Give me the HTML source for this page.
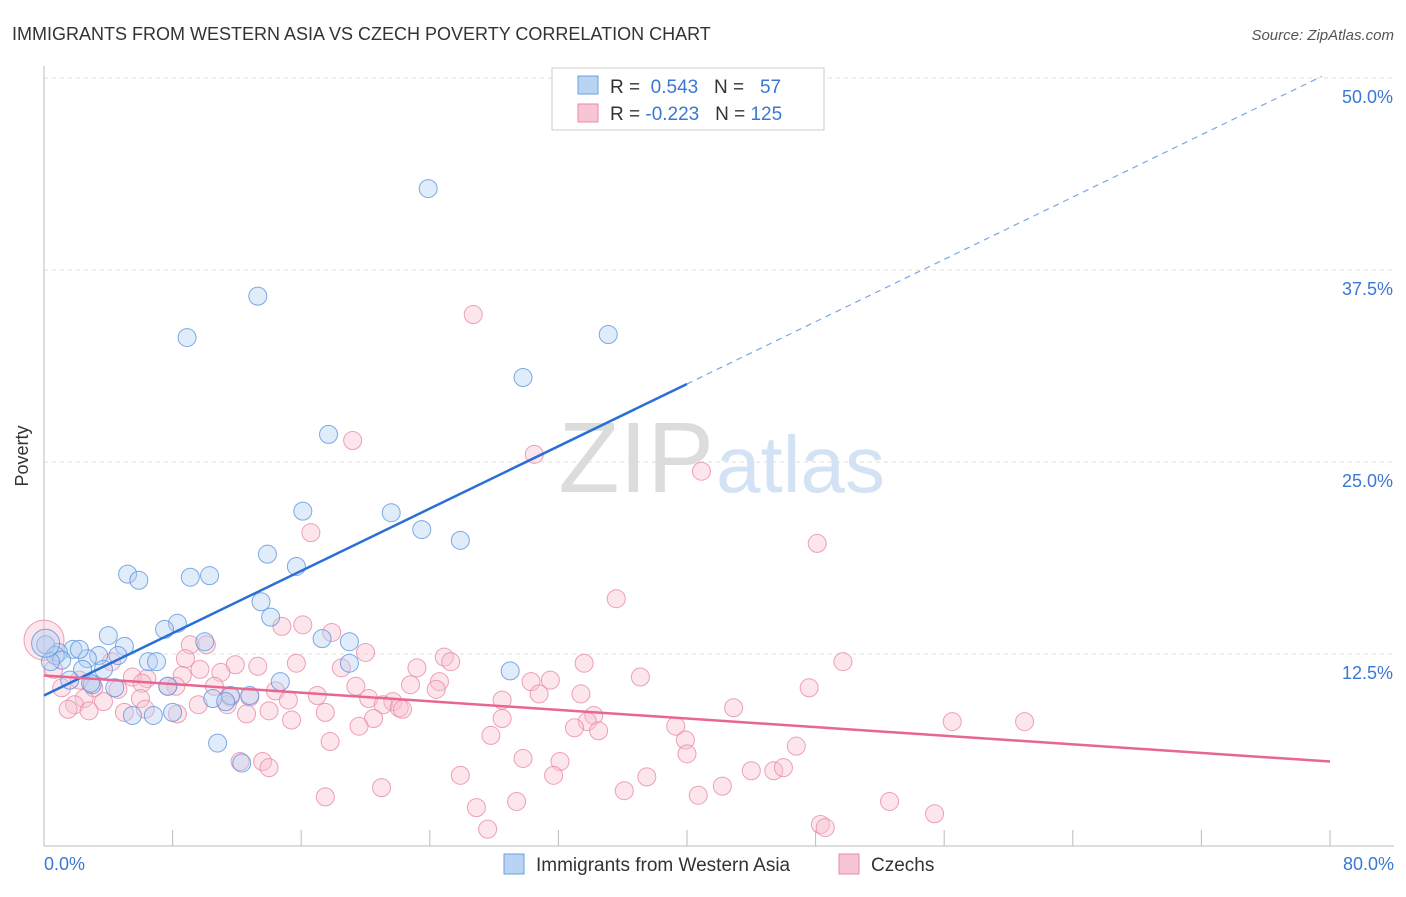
<!DOCTYPE html>
<html><head><meta charset="utf-8"><style>
body{margin:0;background:#fff;font-family:"Liberation Sans",sans-serif;}
svg text{font-family:"Liberation Sans",sans-serif;}
</style></head><body>
<svg id="chart" width="1406" height="892">
<text x="12" y="40" font-size="18" fill="#333">IMMIGRANTS FROM WESTERN ASIA VS CZECH POVERTY CORRELATION CHART</text>
<text x="1394" y="40" font-size="15" fill="#555" text-anchor="end" font-style="italic">Source: ZipAtlas.com</text>
<g id="grid"></g>
<text x="714" y="492" font-size="100" fill="#dcdcdc" text-anchor="end" font-family="Liberation Serif">ZIP</text>
<text x="716" y="492" font-size="80" fill="#d3e3f5">atlas</text>
<g id="marks"></g>
<text x="28" y="456" font-size="18" fill="#333" transform="rotate(-90 28 456)" text-anchor="middle">Poverty</text>
<text x="44" y="870" font-size="18" fill="#3a78d4">0.0%</text>
<text x="1394" y="870" font-size="18" fill="#3a78d4" text-anchor="end">80.0%</text>
<g>
<rect x="552" y="68" width="272" height="62" fill="#fff" stroke="#ccc"/>
<rect x="578" y="76" width="20" height="18" fill="#b9d3f3" stroke="#6b9fdf"/>
<rect x="578" y="104" width="20" height="18" fill="#f7c5d3" stroke="#e88aa6"/>
<text x="610" y="93" font-size="19" fill="#333">R = <tspan fill="#3a78d4">&#160;0.543</tspan>&#160;&#160;&#160;N = &#160;<tspan fill="#3a78d4">&#160;57</tspan></text>
<text x="610" y="120" font-size="19" fill="#333">R = <tspan fill="#3a78d4">-0.223</tspan>&#160;&#160;&#160;N = <tspan fill="#3a78d4">125</tspan></text>
</g>
<g>
<rect x="504" y="854" width="20" height="20" fill="#b9d3f3" stroke="#6b9fdf"/>
<text x="536" y="871" font-size="19" fill="#333">Immigrants from Western Asia</text>
<rect x="839" y="854" width="20" height="20" fill="#f7c5d3" stroke="#e88aa6"/>
<text x="871" y="871" font-size="19" fill="#333">Czechs</text>
</g>
</svg>
<script>
const yTicks=[12.5,25,37.5,50];
const xTicks=[0,8,16,24,32,40,48,56,64,72,80];
const blueX=[23.9,13.3,8.9,35.1,29.8,17.7,16.1,21.6,23.5,25.9,13.9,15.7,5.2,5.9,9.1,10.3,13.5,14.1,8.3,7.5,4.0,10.0,17.3,19.0,5.0,1.8,0.9,3.4,4.6,6.5,7.0,19.0,29.0,0.1,0.7,2.7,3.7,2.4,1.6,3.0,7.7,14.7,4.4,12.8,11.6,10.5,11.3,6.8,5.5,8.0,10.8,12.3,1.1,0.4,2.2,2.9,0.1];
const blueY=[42.8,35.8,33.1,33.3,30.5,26.8,21.8,21.7,20.6,19.9,19.0,18.2,17.7,17.3,17.5,17.6,15.9,14.9,14.5,14.1,13.7,13.3,13.5,13.3,13.0,12.8,12.6,12.4,12.4,12.0,12.0,11.9,11.4,13.1,12.4,12.2,11.5,11.5,10.8,10.5,10.4,10.7,10.3,9.8,9.8,9.6,9.4,8.5,8.5,8.7,6.7,5.4,12.1,12.0,12.8,10.6,13.2];
const pinkX=[26.7,19.2,30.5,40.9,16.6,48.1,35.6,0,14.8,16.1,17.9,9.1,10.1,20.0,24.9,25.3,33.6,49.7,15.7,18.5,23.2,8.8,4.2,9.7,11.9,13.3,0.6,2.2,5.5,6.4,8.6,11.0,37.1,30.3,31.5,24.6,22.8,19.4,8.2,7.7,6.1,1.1,3.1,4.6,10.6,14.4,24.4,33.4,30.8,47.6,17.0,15.2,20.2,21.7,28.5,12.8,11.6,6.0,2.5,3.7,1.9,9.6,11.4,21.1,22.1,22.3,42.9,1.5,2.8,5.0,6.3,8.3,12.6,14.0,17.5,15.4,20.5,28.5,34.2,33.8,19.6,33.0,34.5,39.3,56.5,61.0,27.8,39.9,17.8,46.8,40.0,29.8,32.1,12.2,13.6,14.0,44.0,45.4,46.0,25.9,31.7,37.5,42.2,21.0,36.1,40.7,17.5,29.4,26.9,52.6,55.4,27.6,48.3,48.6];
const pinkY=[34.6,26.4,25.5,24.4,20.4,19.7,16.1,13.4,14.3,14.4,13.9,13.1,13.1,12.6,12.3,12.0,11.9,12.0,11.9,11.6,11.6,12.2,12.0,11.5,11.8,11.7,11.5,10.8,11.0,10.9,11.1,11.3,11.0,10.7,10.8,10.7,10.5,10.4,10.4,10.4,10.6,10.3,10.3,10.2,10.4,10.1,10.2,9.9,9.9,10.3,9.8,9.5,9.6,9.4,9.5,9.7,9.7,9.6,9.6,9.4,9.2,9.2,9.2,9.2,9.0,8.9,9.0,8.9,8.8,8.7,8.9,8.6,8.6,8.8,8.7,8.2,8.3,8.3,8.5,8.1,7.8,7.7,7.5,7.8,8.1,8.1,7.2,6.9,6.8,6.5,6.0,5.7,5.5,5.5,5.5,5.1,4.9,4.9,5.1,4.6,4.6,4.5,3.9,3.8,3.6,3.3,3.2,2.9,2.5,2.9,2.1,1.1,1.4,1.2];
const blueTrend=[9.8,0.507];
const pinkTrend=[11.1,-0.07];
const NS='http://www.w3.org/2000/svg';
const sx=v=>44+v*(1286/80);
const sy=v=>846-v*(192/12.5);
function mk(t,a,p){const e=document.createElementNS(NS,t);for(const k in a)e.setAttribute(k,a[k]);p.appendChild(e);return e;}
const grid=document.getElementById('grid'),marks=document.getElementById('marks');
yTicks.forEach(v=>{
 const l=mk('line',{x1:44,x2:1394,y1:sy(v),y2:sy(v),stroke:'#ddd','stroke-dasharray':'4,4'},grid);
 
 
 const t=mk('text',{x:1393,y:sy(v)+25,'font-size':18,fill:'#3a78d4','text-anchor':'end'},grid);
 t.textContent=v.toFixed(1)+'%';
 
 
});
const ax=mk('line',{x1:44,x2:1394,y1:846,y2:846,stroke:'#bbb'},grid);


const ay=mk('line',{x1:44,x2:44,y1:66,y2:846,stroke:'#bbb'},grid);


xTicks.forEach(v=>{
 const l=mk('line',{x1:sx(v),x2:sx(v),y1:830,y2:846,stroke:'#bbb'},grid);
 
 
});
function dot(x,y,r,fill,stroke,name){
 const c=mk('circle',{cx:sx(x),cy:sy(y),r:r,fill:fill,'fill-opacity':0.4,stroke:stroke,'stroke-width':1,'stroke-opacity':0.8},marks);
 
 
}
pinkX.forEach((x,i)=>dot(x,pinkY[i],i===7?20:9,'#f7c0d0','#e889a6','czechs-point'));
blueX.forEach((x,i)=>dot(x,blueY[i],i===56?14:9,'#b5d0f3','#5c95dd','western-asia-point'));
const b1=mk('line',{x1:sx(0),y1:sy(blueTrend[0]),x2:sx(40),y2:sy(blueTrend[0]+40*blueTrend[1]),stroke:'#2a6fd6','stroke-width':2.5},marks);


const b2=mk('line',{x1:sx(40),y1:sy(blueTrend[0]+40*blueTrend[1]),x2:sx(79.5),y2:sy(blueTrend[0]+79.5*blueTrend[1]),stroke:'#7aa7e4','stroke-width':1.2,'stroke-dasharray':'6,5'},marks);


const p1=mk('line',{x1:sx(0),y1:sy(pinkTrend[0]),x2:sx(80),y2:sy(pinkTrend[0]+80*pinkTrend[1]),stroke:'#e8668f','stroke-width':2.5},marks);


</script>
</body></html>
